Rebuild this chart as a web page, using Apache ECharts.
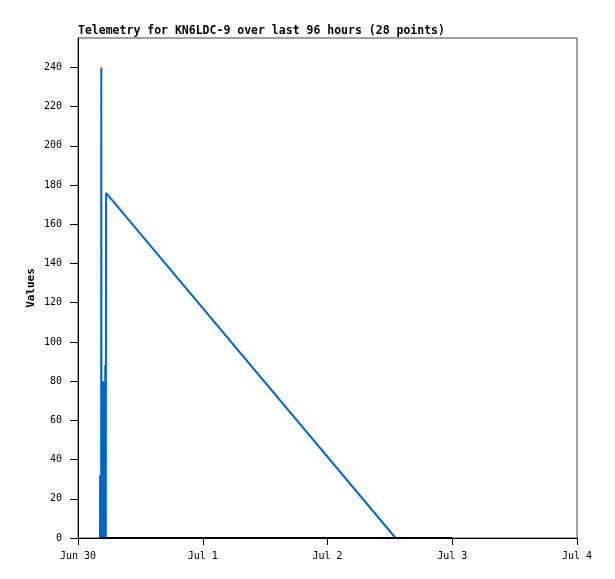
<!DOCTYPE html>
<html><head><meta charset="utf-8">
<script src="https://cdn.jsdelivr.net/npm/echarts@6/dist/echarts.min.js"></script>
<style>html,body{margin:0;padding:0;background:#fff}#c{width:615px;height:579px}</style>
</head><body><div id="c"></div>
<script>
// Hours since Jun 30 00:00
const xTickLabels = ['Jun 30', 'Jul 1', 'Jul 2', 'Jul 3', 'Jul 4'];
const blueHours = [4.23, 4.25, 4.30, 4.40, 4.45, 4.48, 4.52, 4.58, 4.64, 4.72, 4.78, 4.86, 4.92, 5.00, 5.06, 5.14, 5.20, 5.24, 5.30, 5.34, 5.40, 61.1, 72.0];
const blueValues = [0, 32, 0, 32, 0, 240, 0, 80, 0, 80, 0, 80, 0, 80, 0, 80, 0, 88, 88, 0, 176, 0, 0];
const blackHours = [4.23, 72.0];
const blackValues = [0, 0];

const font = 'DejaVu Sans Mono';
const chart = echarts.init(document.getElementById('c'), null, {renderer: 'canvas'});
chart.setOption({
  animation: false,
  title: {
    text: 'Telemetry for KN6LDC-9 over last 96 hours (28 points)',
    left: 73, top: 20,
    textStyle: {fontFamily: font, fontWeight: 'bold', fontSize: 11.5, color: '#000'}
  },
  grid: {left: 78, right: 38, top: 38, bottom: 41, show: true, borderColor: '#444', borderWidth: 1},
  xAxis: {
    type: 'value', min: 0, max: 96, interval: 24,
    axisLine: {onZero: false, lineStyle: {color: '#000'}},
    axisTick: {length: 7, lineStyle: {color: '#000'}},
    axisLabel: {fontFamily: font, fontSize: 10, color: '#000', margin: 13,
      formatter: v => xTickLabels[Math.round(v / 24)]},
    splitLine: {show: false}
  },
  yAxis: {
    type: 'value', min: 0, max: 255, interval: 20,
    name: 'Values', nameLocation: 'middle', nameGap: 41, nameMoveOverlap: false,
    nameTextStyle: {fontFamily: font, fontWeight: 'bold', fontSize: 11, color: '#000'},
    axisLine: {show: true, lineStyle: {color: '#000'}},
    axisTick: {show: true, length: 8, lineStyle: {color: '#000'}},
    axisLabel: {fontFamily: font, fontSize: 10, color: '#000', margin: 16, showMaxLabel: false},
    splitLine: {show: false}
  },
  series: [
    {type: 'line', data: blueHours.map((h, i) => [h, blueValues[i]]), showSymbol: false,
      lineStyle: {color: '#0066cc', width: 2}, z: 2},
    {type: 'line', data: blackHours.map((h, i) => [h, blackValues[i]]), showSymbol: false, clip: false,
      lineStyle: {color: '#000', width: 2}, z: 3}
  ]
});
</script></body></html>
